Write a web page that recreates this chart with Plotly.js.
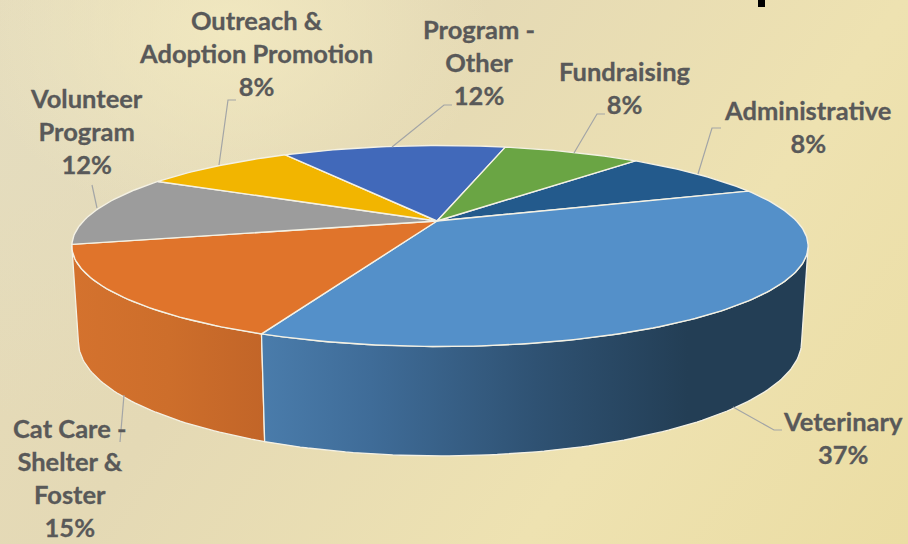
<!DOCTYPE html>
<html><head><meta charset="utf-8">
<script src="https://cdn.plot.ly/plotly-3.0.1.min.js"></script>
<style>
html,body{margin:0;padding:0;width:908px;height:544px;overflow:hidden;
background:
 radial-gradient(ellipse 260px 200px at 230px 30px, rgba(242,233,192,.9), rgba(242,233,192,0)),
 radial-gradient(ellipse 300px 300px at 0px 120px, rgba(228,221,192,.7), rgba(228,221,192,0)),
 linear-gradient(125deg,#e6dcbb 0%,#e4d9b5 35%,#eee2b1 70%,#ebdda3 100%);}
#c{width:908px;height:544px;}
.annotation-text{stroke:#595959;stroke-width:.3px;}
</style></head><body><div id="c"></div>
<script>
const categories=["Administrative","Veterinary","Cat Care -<br>Shelter &<br>Foster","Volunteer<br>Program","Outreach &<br>Adoption Promotion","Program -<br>Other","Fundraising"];
const shares=[8.1,37,15,11.5,8.4,12.4,7.6];
const topColors=["#235a8c","#5490c9","#e0742b","#9c9c9c","#f2b500","#4169ba","#6aa544"];
const labelX=[808,843,70,86,256,479,625];
const labelY=[126,437,477,131,53,62,87];

const startDeg=40.44, cx=440, cy=221.5, A=357, B=94.5, k=0.244;
const apex=[437,221];
function rim(deg){const t=deg*Math.PI/180,u=Math.sin(t),v=-Math.cos(t),w=1-k*v;
  return [cx+A*u/w, cy+B*v/w];}
function low(p){return [cx+(p[0]-cx)*361.5/368, 342+(p[1]-246.5)*114.5/100.5];}
function arc(a,b){const n=Math.max(2,Math.ceil(Math.abs(b-a))),o=[];
  for(let i=0;i<=n;i++)o.push(rim(a+(b-a)*i/n));return o;}
function wall(a,b,scale){const top=arc(a,b),bot=top.map(low).reverse(),p=top.concat(bot,[top[0]]);
  return {x:p.map(q=>q[0]),y:p.map(q=>q[1]),mode:"lines",fill:"toself",hoverinfo:"skip",
    line:{color:"#f4f1e4",width:1.3},fillcolor:scale[0][1],
    fillgradient:{type:"horizontal",colorscale:scale}};}

const edges=[];let acc=startDeg;
shares.forEach(s=>{edges.push([acc,acc+s*3.6]);acc+=s*3.6;});
const tR=Math.acos(-k)*180/Math.PI, tL=360-tR;
const traces=[];
traces.push(wall(edges[1][1],tL,[[0,"#d4722e"],[0.5,"#cd6e2b"],[1,"#c26528"]]));
traces.push(wall(tR,edges[1][1],[[0,"#4a7cab"],[0.2,"#3f6c98"],[0.5,"#2f5273"],[0.78,"#233e55"],[1,"#233e55"]]));
shares.forEach((s,i)=>{const p=[apex].concat(arc(edges[i][0],edges[i][1]),[apex]);
  traces.push({x:p.map(q=>q[0]),y:p.map(q=>q[1]),mode:"lines",fill:"toself",fillcolor:topColors[i],
    line:{color:"#f4f1e4",width:1.4},hoverinfo:"skip"});});

function leader(pts){return {type:"path",path:pts.map((q,i)=>(i?"L":"M")+q[0]+","+q[1]).join(" "),
  line:{color:"#a3a5a6",width:1.2},layer:"above"};}
const shapes=[
 leader([[219,165],[228,100],[236,100]]),
 leader([[392,147],[444,105],[452,105]]),
 leader([[574,153],[597,114],[605,114]]),
 leader([[698,174],[712,128],[721,128]]),
 leader([[97,208],[92,185]]),
 leader([[124,395],[120,442]]),
 leader([[733,407],[774,430],[782,430]]),
 {type:"rect",x0:758,x1:765,y0:0,y1:7,fillcolor:"#000",line:{width:0}}
];
const annotations=categories.map((c,i)=>({x:labelX[i],y:labelY[i],xref:"x",yref:"y",showarrow:false,
  xanchor:"center",yanchor:"middle",align:"center",
  text:"<b>"+c+"<br>"+Math.round(shares[i])+"%</b>",
  font:{family:"Lato, 'Open Sans', sans-serif",size:25.5,color:"#595959"}}));

Plotly.newPlot("c",traces,{width:908,height:544,margin:{l:0,r:0,t:0,b:0},showlegend:false,
  paper_bgcolor:"rgba(0,0,0,0)",plot_bgcolor:"rgba(0,0,0,0)",
  xaxis:{range:[0,908],visible:false,fixedrange:true},
  yaxis:{range:[544,0],visible:false,fixedrange:true},
  shapes:shapes,annotations:annotations},{displayModeBar:false,staticPlot:true});
</script></body></html>
